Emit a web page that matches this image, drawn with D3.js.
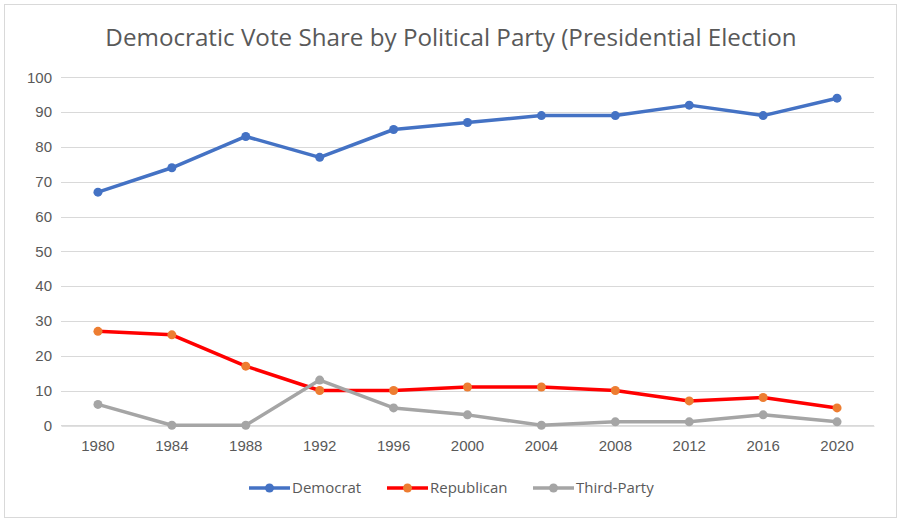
<!DOCTYPE html>
<html>
<head>
<meta charset="utf-8">
<script src="https://cdn.jsdelivr.net/npm/d3@7"></script>
<style>
  body { margin: 0; background: #fff; }
  svg { display: block; font-family: "Open Sans", "Noto Sans", sans-serif; }
</style>
</head>
<body>
<svg width="903" height="523"></svg>
<script>
var years = ['1980', '1984', '1988', '1992', '1996', '2000', '2004', '2008', '2012', '2016', '2020']
var democrat   = [67, 74, 83, 77, 85, 87, 89, 89, 92, 89, 94]
var republican = [27, 26, 17, 10, 10, 11, 11, 10, 7, 8, 5]
var thirdParty = [6, 0, 0, 13, 5, 3, 0, 1, 1, 3, 1]
var yTicks = [0, 10, 20, 30, 40, 50, 60, 70, 80, 90, 100]

var series = [
  { name: 'Democrat', values: democrat, line: '#4472c4', dot: '#4472c4' },
  { name: 'Republican', values: republican, line: '#ff0000', dot: '#ed7d31' },
  { name: 'Third-Party', values: thirdParty, line: '#a5a5a5', dot: '#a5a5a5' }
]

var svg = d3.select('svg')

svg.append('rect')
  .attr('x', 4.5).attr('y', 4.5)
  .attr('width', 892).attr('height', 513)
  .attr('fill', '#fff').attr('stroke', '#d9d9d9')

var x = d3.scaleBand().domain(years).range([61, 874])
var y = d3.scaleLinear().domain([0, 100]).range([425.3, 77.3])

svg.append('text')
  .attr('x', 451).attr('y', 46)
  .attr('text-anchor', 'middle')
  .attr('font-size', 24.2)
  .attr('fill', '#595959')
  .text('Democratic Vote Share by Political Party (Presidential Election')

// grid
svg.append('g').selectAll('line').data(yTicks)
  .enter().append('line')
  .attr('x1', 61).attr('x2', 874)
  .attr('y1', function (d) { return Math.round(y(d)) + 0.5 })
  .attr('y2', function (d) { return Math.round(y(d)) + 0.5 })
  .attr('stroke', '#d9d9d9')

var yAxis = svg.append('g')
  .attr('transform', 'translate(52,0)')
  .call(d3.axisLeft(y).tickValues(yTicks).tickSize(0).tickPadding(0))
yAxis.select('.domain').remove()
yAxis.selectAll('text').attr('font-size', 15).attr('fill', '#595959').attr('font-family', 'inherit')

var xAxis = svg.append('g')
  .attr('transform', 'translate(0,' + (y(0) + 0.5) + ')')
  .call(d3.axisBottom(x).tickSize(0).tickPadding(15))
xAxis.select('.domain').attr('stroke', '#d9d9d9')
xAxis.selectAll('text').attr('font-size', 15).attr('fill', '#595959').attr('font-family', 'inherit')

var line = d3.line()
  .x(function (d, i) { return x(years[i]) + x.bandwidth() / 2 })
  .y(function (d) { return y(d) })

series.forEach(function (s) {
  var g = svg.append('g')
  g.append('path')
    .attr('d', line(s.values))
    .attr('fill', 'none')
    .attr('stroke', s.line)
    .attr('stroke-width', 3.5)
    .attr('stroke-linejoin', 'round')
  g.selectAll('circle').data(s.values)
    .enter().append('circle')
    .attr('cx', function (d, i) { return x(years[i]) + x.bandwidth() / 2 })
    .attr('cy', function (d) { return y(d) })
    .attr('r', 4.5)
    .attr('fill', s.dot)
})

// legend
var legendX = [249, 387, 533]
var lg = svg.append('g').selectAll('g').data(series)
  .enter().append('g')
  .attr('transform', function (d, i) { return 'translate(' + legendX[i] + ',488)' })
lg.append('line')
  .attr('x1', 0).attr('x2', 41)
  .attr('stroke', function (d) { return d.line })
  .attr('stroke-width', 3.5)
lg.append('circle')
  .attr('cx', 20.5).attr('r', 4.5)
  .attr('fill', function (d) { return d.dot })
lg.append('text')
  .attr('x', 43).attr('dy', '0.35em')
  .attr('font-size', 15)
  .attr('fill', '#595959')
  .text(function (d) { return d.name })
</script>
</body>
</html>
